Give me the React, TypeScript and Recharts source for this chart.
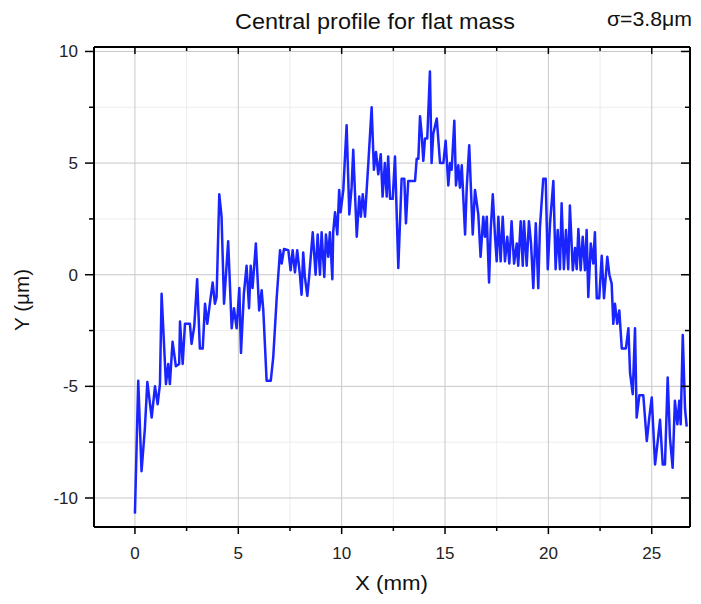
import { LineChart, Line, XAxis, YAxis, CartesianGrid } from 'recharts';

// profile samples
const xMm = [
  0, 0.16, 0.32, 0.48, 0.6, 0.81, 0.97, 1.1, 1.21, 1.29, 1.5, 1.61, 1.69, 1.82, 1.98, 2.14, 2.18, 2.31, 2.42, 2.66,
  2.74, 2.87, 3.01, 3.14, 3.28, 3.39, 3.5, 3.63, 3.76, 3.87, 3.95, 4.08, 4.19, 4.31, 4.51, 4.68, 4.79, 4.92, 5.05, 5.13,
  5.27, 5.4, 5.52, 5.6, 5.69, 5.85, 6.01, 6.13, 6.21, 6.37, 6.57, 6.69, 6.86, 7.02, 7.1, 7.21, 7.42, 7.53, 7.63, 7.74,
  7.85, 7.98, 8.06, 8.14, 8.22, 8.34, 8.43, 8.6, 8.74, 8.84, 8.95, 9.03, 9.16, 9.24, 9.35, 9.43, 9.55, 9.59, 9.68, 9.79,
  9.88, 9.95, 10.08, 10.24, 10.37, 10.48, 10.56, 10.73, 10.85, 10.93, 11.02, 11.13, 11.29, 11.45, 11.56, 11.66, 11.77,
  11.89, 11.98, 12.09, 12.18, 12.25, 12.34, 12.47, 12.58, 12.74, 12.9, 13.03, 13.11, 13.22, 13.55, 13.63, 13.71, 13.79,
  13.87, 13.95, 14.03, 14.14, 14.27, 14.35, 14.43, 14.6, 14.76, 14.92, 15.03, 15.16, 15.24, 15.32, 15.45, 15.53, 15.64,
  15.72, 15.81, 15.97, 16.05, 16.17, 16.34, 16.45, 16.61, 16.72, 16.85, 16.93, 17.02, 17.13, 17.21, 17.31, 17.42, 17.5,
  17.58, 17.69, 17.79, 17.9, 18.01, 18.11, 18.22, 18.34, 18.47, 18.54, 18.66, 18.76, 18.82, 18.95, 19.06, 19.16, 19.27,
  19.39, 19.51, 19.59, 19.75, 19.87, 19.97, 20.08, 20.24, 20.35, 20.45, 20.56, 20.64, 20.75, 20.85, 20.96, 21.04, 21.18,
  21.29, 21.37, 21.45, 21.56, 21.66, 21.77, 21.85, 21.93, 22.05, 22.17, 22.25, 22.34, 22.46, 22.58, 22.69, 22.85, 22.95,
  23.06, 23.14, 23.22, 23.33, 23.43, 23.55, 23.75, 23.87, 23.95, 24.08, 24.19, 24.27, 24.4, 24.59, 24.76, 24.88, 25.0,
  25.16, 25.29, 25.4, 25.53, 25.64, 25.77, 25.88, 26.01, 26.12, 26.24, 26.33, 26.4, 26.5, 26.61, 26.69,
];

const yUm = [
  -10.7, -4.75, -8.8, -6.9, -4.8, -6.4, -5.0, -5.8, -4.9, -0.85, -4.9, -4.0, -4.9, -3.0, -4.1, -4.0, -2.1, -4.0, -2.2, -2.2,
  -3.1, -2.3, -0.2, -3.3, -3.3, -1.3, -2.2, -1.25, -0.35, -1.3, -1.0, 3.6, 2.6, -1.3, 1.5, -2.4, -1.5, -2.4, -0.6, -3.5,
  -0.85, 0.4, -1.5, 0.4, -0.6, 1.4, -1.6, -0.7, -1.6, -4.75, -4.75, -3.7, -1.0, 1.1, 0.5, 1.15, 1.1, 0.2, 1.1, 0.1,
  1.1, 0.0, -0.9, 1.0, -0.1, -0.95, -0.05, 1.9, 0, 1.8, 0, 1.9, -0.1, 1.8, 0.8, 1.9, -0.2, 1.9, 2.8, 1.8,
  3.8, 2.8, 3.8, 6.7, 2.7, 3.9, 5.6, 1.7, 3.5, 2.6, 3.6, 2.6, 5.0, 7.5, 4.7, 5.5, 4.5,
  5.4, 3.5, 5.0, 3.5, 5.3, 3.4, 3.4, 5.3, 0.3, 4.3, 4.3, 2.3, 4.2, 4.2, 5.2, 5.2, 7.1,
  6.3, 5.1, 6.1, 6.1, 9.1, 5.0, 6.3, 7.0, 5.0, 5.0, 6.0, 4.0, 5.0, 4.7, 6.9, 4.0, 4.9,
  3.9, 4.9, 1.8, 3.9, 5.8, 1.8, 3.8, 2.7, 0.8, 2.6, 1.7, 2.6, -0.35, 2.0, 3.6, 1.7, 0.6,
  2.6, 0.6, 2.6, 0.6, 1.7, 0.5, 2.4, 0.5, 1.4, 0.4, 2.4, 0.4, 2.4, 0.4, 2.4, 1.4, -0.6,
  2.3, -0.6, 2.1, 4.3, 4.3, 0.25, 2.3, 4.2, 0.25, 2.0, 0.25, 3.2, 0.25, 2.0, 0.25, 3.1, 0.2,
  1.2, 0.25, 2.05, 0.2, 1.7, 0.2, 2.0, -1.0, 1.4, 0.5, 1.9, -1.05, -1.05, 0.85, -1.05, 0.8, 0,
  -0.4, -2.2, -1.3, -2.2, -1.6, -3.3, -3.3, -2.4, -4.4, -5.35, -2.4, -6.4, -5.4, -5.4, -7.45, -6.4, -5.5,
  -8.5, -7.45, -6.5, -8.5, -8.5, -4.6, -7.3, -8.65, -5.65, -6.7, -5.65, -6.7, -2.7, -6.0, -6.8,
];

const majorX = [0, 5, 10, 15, 20, 25];
const minorX = [2.5, 7.5, 12.5, 17.5, 22.5];
const majorY = [-10, -5, 0, 5, 10];
const minorY = [-7.5, -2.5, 2.5, 7.5];

const X_DOMAIN: [number, number] = [-1.98, 26.85];
const Y_DOMAIN: [number, number] = [-11.3, 10.2];

const FONT = '"Liberation Sans", Arial, Helvetica, sans-serif';

const data = xMm.map((x, i) => ({ x, y: yUm[i] }));

// eslint-disable-next-line @typescript-eslint/no-explicit-any
function BottomTick({ x, y, payload }: any) {
  const major = majorX.includes(payload.value);
  return (
    <g>
      <line x1={x} x2={x} y1={y} y2={y + (major ? 7 : 4)} stroke="#000" strokeWidth={1.5} />
      {major && (
        <text x={x} y={y + 32} textAnchor="middle" fontSize={17} fontFamily={FONT} fill="#222">
          {payload.value}
        </text>
      )}
    </g>
  );
}

// eslint-disable-next-line @typescript-eslint/no-explicit-any
function TopTick({ x, y, payload }: any) {
  const major = majorX.includes(payload.value);
  return <line x1={x} x2={x} y1={y} y2={y + (major ? 7 : 4)} stroke="#000" strokeWidth={1.5} />;
}

// eslint-disable-next-line @typescript-eslint/no-explicit-any
function LeftTick({ x, y, payload }: any) {
  const major = majorY.includes(payload.value);
  return (
    <g>
      <line x1={x - (major ? 9 : 5)} x2={x} y1={y} y2={y} stroke="#000" strokeWidth={1.5} />
      {major && (
        <text x={x - 16} y={y + 6} textAnchor="end" fontSize={17} fontFamily={FONT} fill="#222">
          {payload.value}
        </text>
      )}
    </g>
  );
}

// eslint-disable-next-line @typescript-eslint/no-explicit-any
function RightTick({ x, y, payload }: any) {
  const major = majorY.includes(payload.value);
  return <line x1={x - (major ? 9 : 5)} x2={x} y1={y} y2={y} stroke="#000" strokeWidth={1.5} />;
}

const frame = { stroke: '#000', strokeWidth: 2 };

export default function App() {
  return (
    <div style={{ position: 'absolute', left: 0, top: 0, width: 701, height: 604, background: '#fff' }}>
      <LineChart width={701} height={604} data={data} margin={{ top: 46, right: 10, bottom: 76, left: 93 }}>
        <XAxis xAxisId="gridMinor" type="number" dataKey="x" domain={X_DOMAIN} ticks={minorX} hide allowDataOverflow />
        <XAxis xAxisId="gridMajor" type="number" dataKey="x" domain={X_DOMAIN} ticks={majorX} hide allowDataOverflow />
        <YAxis yAxisId="gridMinor" type="number" domain={Y_DOMAIN} ticks={minorY} hide allowDataOverflow />
        <YAxis yAxisId="gridMajor" type="number" domain={Y_DOMAIN} ticks={majorY} hide allowDataOverflow />
        <CartesianGrid xAxisId="gridMinor" yAxisId="gridMinor" stroke="#ececec" strokeWidth={1} />
        <CartesianGrid xAxisId="gridMajor" yAxisId="gridMajor" stroke="#c8c8c8" strokeWidth={1} />

        <XAxis
          type="number"
          dataKey="x"
          domain={X_DOMAIN}
          ticks={[...majorX, ...minorX]}
          interval={0}
          allowDataOverflow
          height={1}
          tickSize={0}
          tickMargin={0}
          tickLine={false}
          tick={BottomTick}
          axisLine={frame}
        />
        <XAxis
          xAxisId="top"
          orientation="top"
          type="number"
          dataKey="x"
          domain={X_DOMAIN}
          ticks={[...majorX, ...minorX]}
          interval={0}
          allowDataOverflow
          height={1}
          tickSize={0}
          tickMargin={0}
          tickLine={false}
          tick={TopTick}
          axisLine={frame}
        />
        <YAxis
          type="number"
          domain={Y_DOMAIN}
          ticks={[...majorY, ...minorY]}
          interval={0}
          allowDataOverflow
          width={1}
          tickSize={0}
          tickMargin={0}
          tickLine={false}
          tick={LeftTick}
          axisLine={frame}
        />
        <YAxis
          yAxisId="right"
          orientation="right"
          type="number"
          domain={Y_DOMAIN}
          ticks={[...majorY, ...minorY]}
          interval={0}
          allowDataOverflow
          width={1}
          tickSize={0}
          tickMargin={0}
          tickLine={false}
          tick={RightTick}
          axisLine={frame}
        />

        <Line
          type="linear"
          dataKey="y"
          stroke="#1a24ff"
          strokeWidth={2.5}
          strokeLinejoin="round"
          dot={false}
          isAnimationActive={false}
        />
      </LineChart>

      <svg
        width={701}
        height={604}
        style={{ position: 'absolute', left: 0, top: 0, pointerEvents: 'none' }}
        fontFamily={FONT}
      >
        <text x={375} y={29} textAnchor="middle" fontSize={22} fill="#111" textLength={280} lengthAdjust="spacingAndGlyphs">
          Central profile for flat mass
        </text>
        <text x={607} y={26} fontSize={20} fill="#111" textLength={85} lengthAdjust="spacingAndGlyphs">
          σ=3.8μm
        </text>
        <text x={391.5} y={590} textAnchor="middle" fontSize={21} fill="#111" textLength={73} lengthAdjust="spacingAndGlyphs">
          X (mm)
        </text>
        <text
          transform="translate(29, 300) rotate(-90)"
          textAnchor="middle"
          fontSize={20}
          fill="#111"
          textLength={62}
          lengthAdjust="spacingAndGlyphs"
        >
          Y (μm)
        </text>
      </svg>
    </div>
  );
}
